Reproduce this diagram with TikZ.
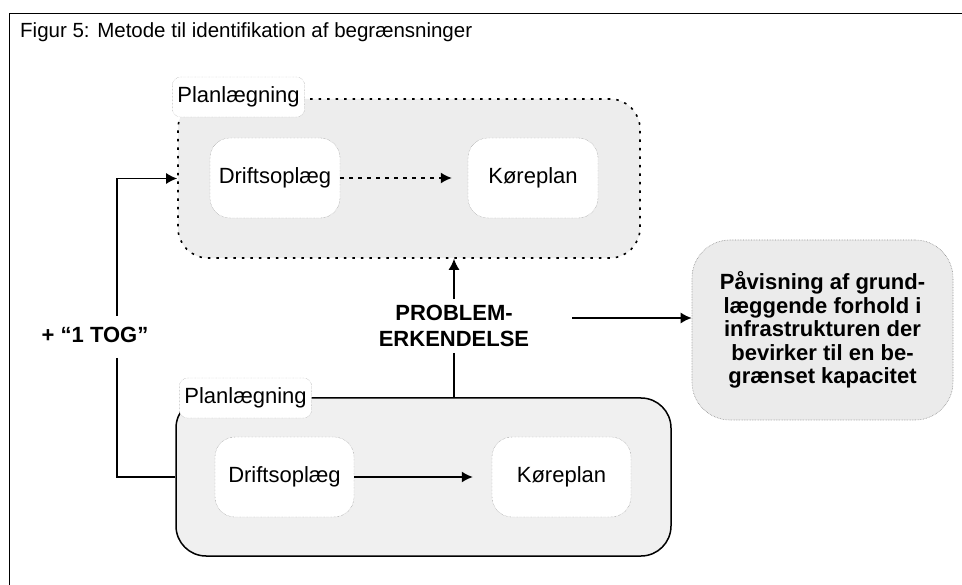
\documentclass[tikz,border=0pt]{standalone}
\usepackage{fontspec}
\setmainfont{Liberation Sans}
\usetikzlibrary{arrows.meta}

\begin{document}
\begin{tikzpicture}[x=1pt,y=-1pt,
    txt/.style={font=\fontsize{22}{26}\selectfont},
    plan/.style={rounded corners=30pt,minimum height=158pt,fill=black!7},
    tab/.style={txt,draw=black!40,densely dotted,rounded corners=8pt,fill=white,minimum height=40pt,inner xsep=5pt},
    box/.style={txt,draw=black!50,densely dotted,rounded corners=20pt,fill=white,minimum width=132pt,minimum height=80pt},
    arr/.style={-{Latex[length=11pt,width=11pt]},line width=1.5pt},
    line/.style={line width=1.5pt}]
    \useasboundingbox (0,0) rectangle (962,585);
    %% Frame and title
    \draw[line width=1pt] (9,585) -- (9,14) -- (962,14);
    \node[anchor=base west,font=\fontsize{20.5}{25}\selectfont,inner sep=0pt] (title) at (20,38)
        {Figur 5: Metode til identifikation af begrænsninger};
    %% Upper planning (dotted)
    \node[plan,draw,line width=1.6pt,dash pattern=on 2.5pt off 6pt,minimum width=462pt,minimum height=159pt]
        (planA) at (409,178.5) {};
    \node[tab] (tabA) at (238.5,97) {Planlægning};
    \node[box,minimum width=130pt] (driftA) at (275,178) {Driftsoplæg};
    \node[box,minimum width=130pt] (koerA) at (533,178) {Køreplan};
    \draw[arr,dash pattern=on 4pt off 5pt,shorten >=16pt] (driftA) -- (koerA);
    %% Lower planning (solid)
    \node[plan,draw,line width=1.5pt,fill=black!6,minimum width=495pt] (planB) at (423.5,477) {};
    \node[tab] (tabB) at (245.5,398) {Planlægning};
    \node[box,minimum width=139pt] (driftB) at (284.5,477) {Driftsoplæg};
    \node[box,minimum width=139pt] (koerB) at (561.5,477) {Køreplan};
    \draw[arr,shorten >=19pt] (driftB) -- (koerB);
    %% Result
    \node[txt,font=\fontsize{22}{23.5}\selectfont\bfseries,align=center,draw=black!45,densely dotted,line width=0.6pt,
        rounded corners=38pt,fill=black!8,minimum width=261pt,minimum height=180pt]
        (result) at (822.5,330)
        {Påvisning af grund-\\læggende forhold i\\infrastrukturen der\\bevirker til en be-\\grænset kapacitet};
    \node[txt,font=\fontsize{22}{26}\selectfont\bfseries,align=center,inner sep=6pt] (prob) at (454,326)
        {PROBLEM-\\ERKENDELSE};
    \draw[arr] (prob.north) -- (prob.north |- planA.south);
    \draw[line] (prob.south) -- (prob.south |- planB.north);
    \coordinate (res) at (572,318);
    \draw[arr] (res) -- (res -| result.west);
    %% Plus one train
    \node[txt,font=\fontsize{22}{26}\selectfont\bfseries] (tog) at (95,335) {+ “1 TOG”};
    \coordinate (togA) at (117,316);
    \coordinate (togB) at (117,358);
    \draw[arr] (togA) |- (planA.west);
    \draw[line] (togB) |- (planB.west);
\end{tikzpicture}
\end{document}
